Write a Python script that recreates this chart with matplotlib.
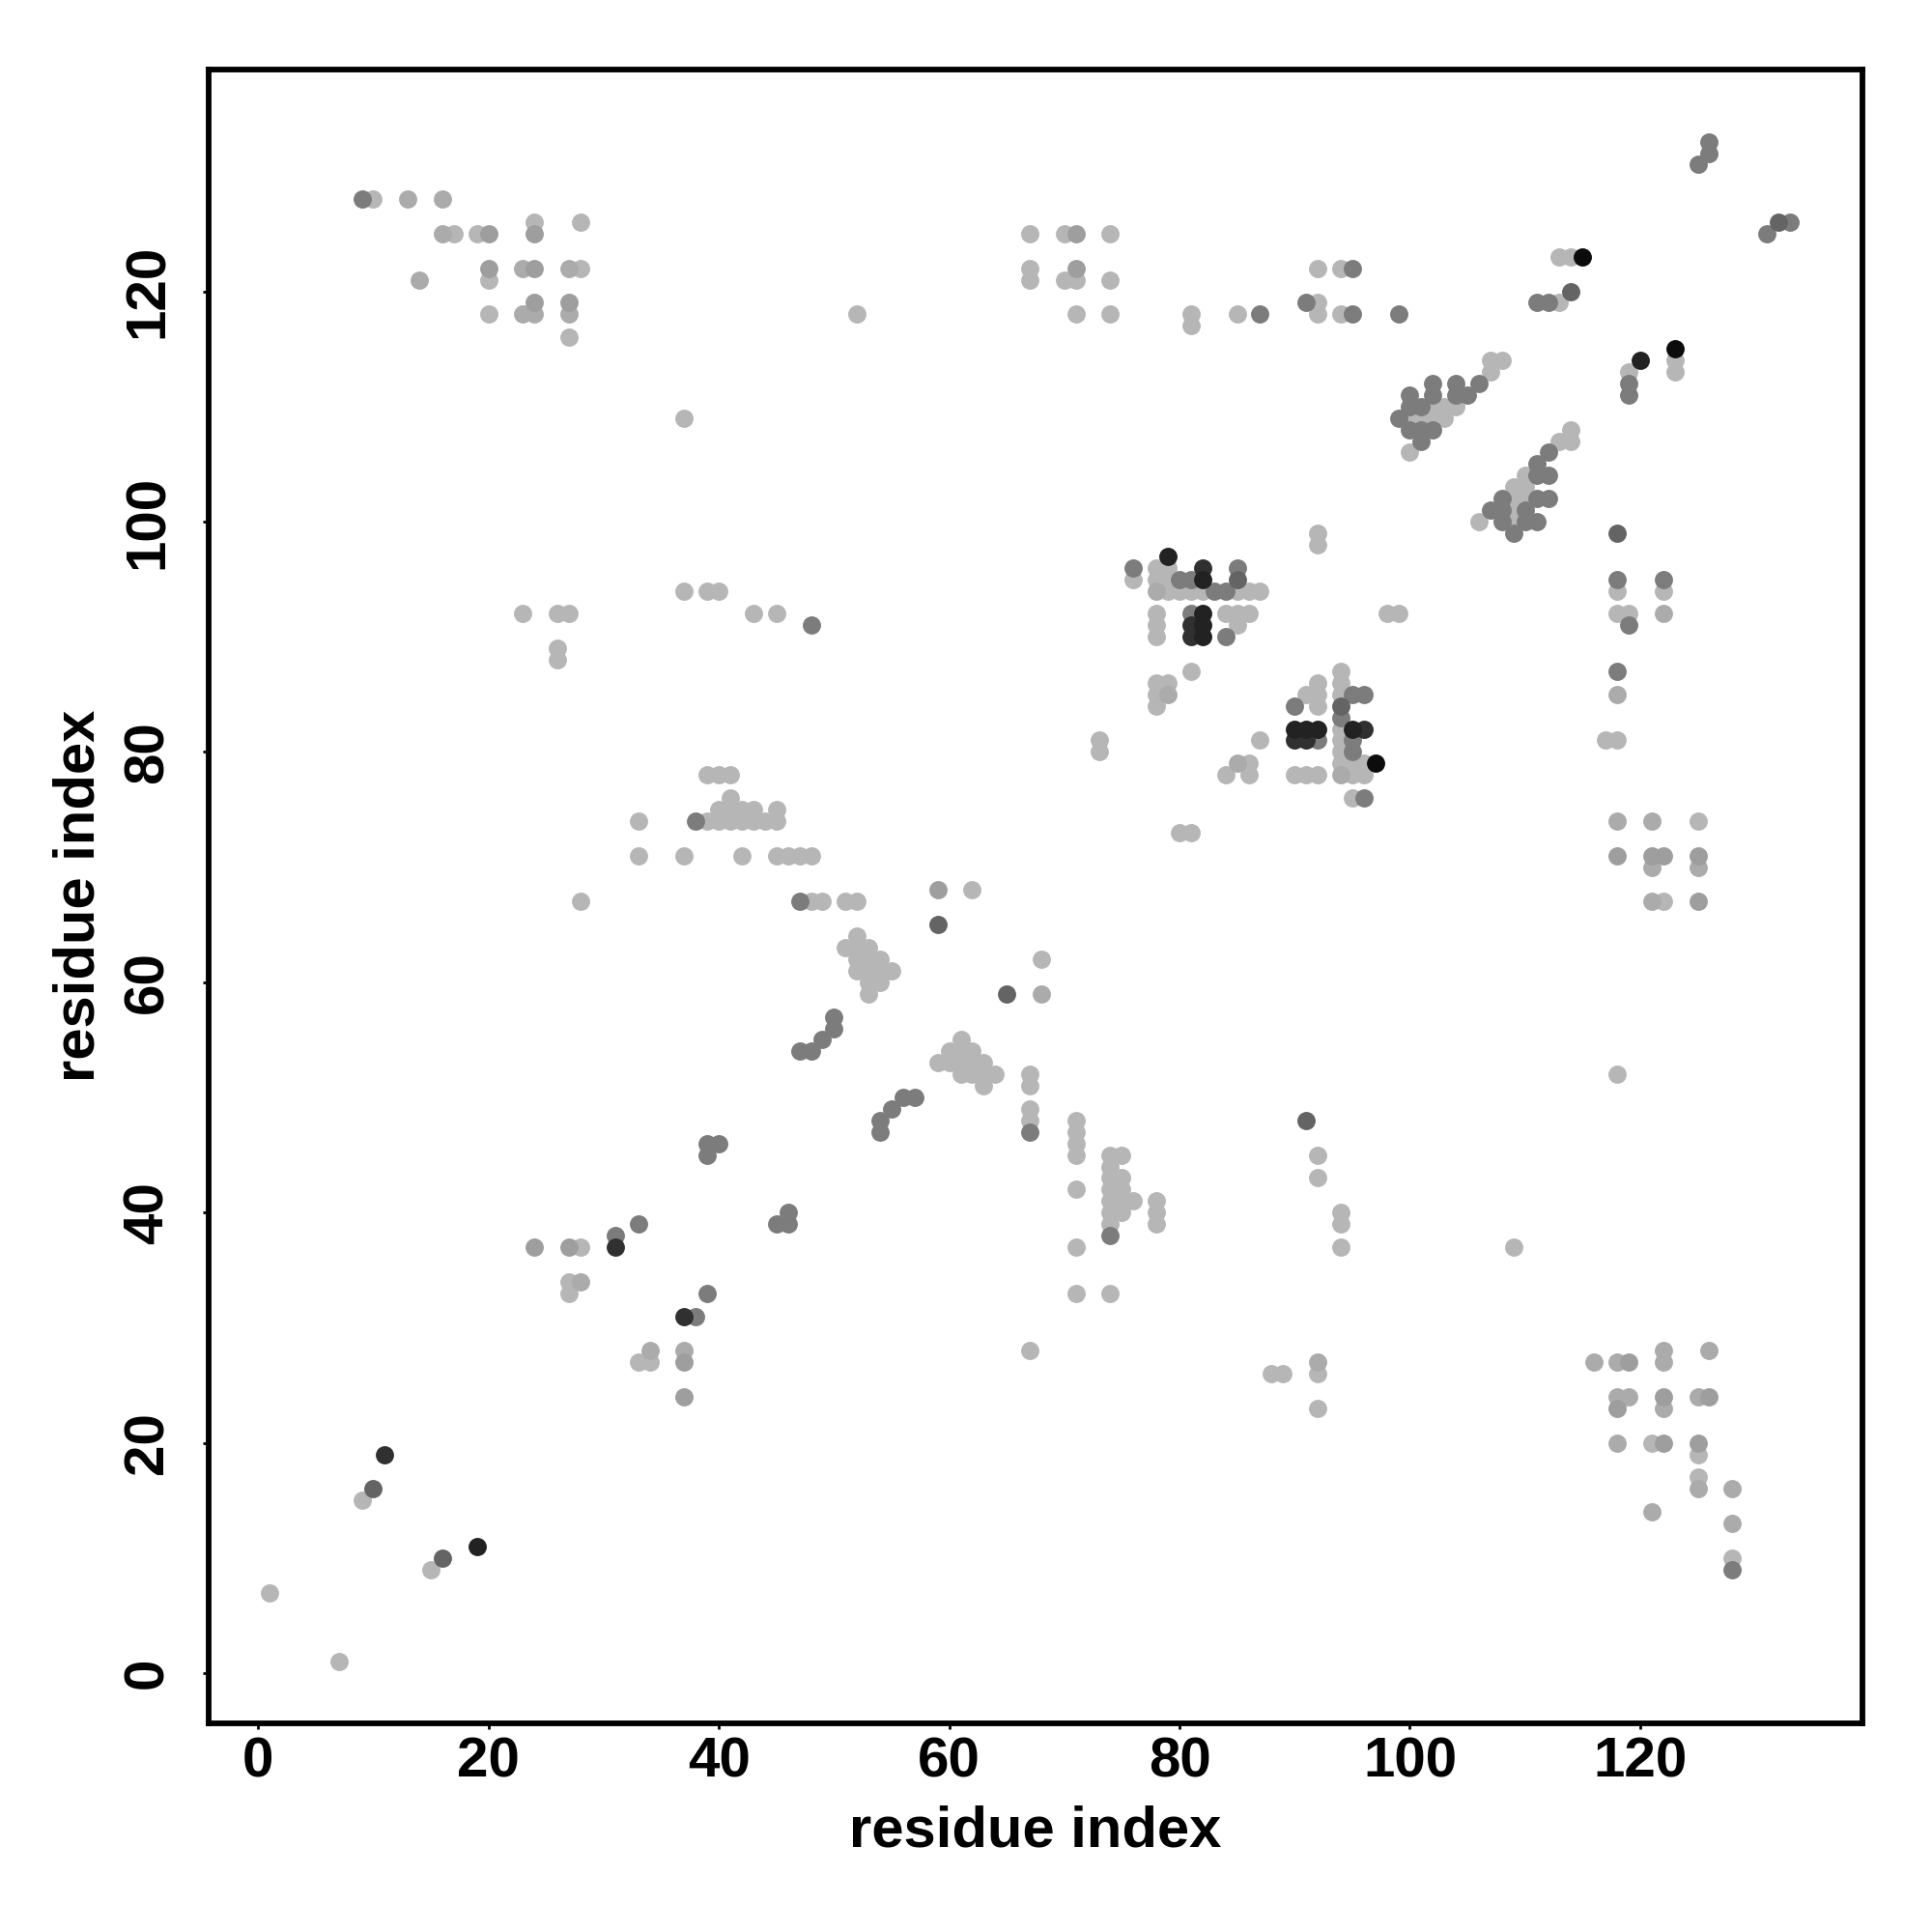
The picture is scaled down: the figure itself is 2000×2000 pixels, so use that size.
import numpy as np
import matplotlib
matplotlib.use('Agg')
import matplotlib.pyplot as plt

# contact pairs (residue i, residue j), grouped by how dark the dot is
light = [
    (10,128),(17,125),(19,125),(24,126),(28,126),(28,122),
    (20,121),(20,118),(27,116),(52,118),
    (67,125),(70,125),(74,125),(67,122),(67,121),(70,121),(71,121),(74,121),(71,118),(74,118),
    (81,118),(81,117),(85,118),(92,122),(94,122),(92,119),(92,118),(94,118),
    (113,123),(114,123),(113,119),(123,114),(119,113),(123,113),
    (107,114),(108,114),(107,113),(104,110),(103,110),(102,110),(100,109),(101,109),(102,109),(103,109),(100,106),
    (114,108),(113,107),(114,107),(110,104),(109,103),(110,103),(109,102),(110,102),(109,101),(106,100),(109,100),
    (92,99),(92,98),(37,109),
    (76,95),(78,96),(79,96),(78,95),(79,95),(79,94),(80,94),(81,94),(82,94),(85,94),(86,94),(87,94),
    (78,92),(84,92),(85,92),(86,92),(78,91),(85,91),(78,90),(81,87),(78,86),(79,86),(78,85),(78,84),
    (98,92),(99,92),(73,81),(73,80),
    (94,87),(94,86),(92,86),(91,85),(92,85),(94,85),(92,84),(94,82),(94,81),(87,81),(94,80),
    (86,79),(94,79),(95,79),(96,79),(84,78),(86,78),(90,78),(91,78),(92,78),(95,78),(96,78),(95,76),
    (23,92),(26,92),(27,92),(43,92),(45,92),(37,94),(39,94),(40,94),(26,89),(26,88),
    (118,94),(122,94),(118,92),(119,92),(117,81),(118,81),
    (125,74),(122,67),(118,52),
    (39,78),(40,78),(41,78),(41,76),(40,75),(41,75),(42,75),(43,75),(45,75),
    (39,74),(40,74),(41,74),(42,74),(43,74),(44,74),(45,74),(33,74),(33,71),
    (37,71),(42,71),(45,71),(46,71),(47,71),(48,71),(80,73),(81,73),
    (28,67),(48,67),(49,67),(51,67),(52,67),(62,68),
    (52,64),(51,63),(52,63),(53,63),(52,62),(53,62),(54,62),(52,61),(53,61),(54,61),(55,61),(53,60),(54,60),(53,59),
    (68,62),(61,55),(60,54),(61,54),(62,54),(59,53),(60,53),(61,53),(62,53),(63,53),(61,52),(62,52),(63,52),(64,52),(63,51),
    (67,52),(67,51),(67,49),(67,48),
    (71,48),(71,47),(71,46),(71,45),(71,42),(71,37),(71,33),
    (74,45),(75,45),(74,44),(74,43),(75,43),(74,42),(75,42),(74,41),(75,41),(76,41),(74,40),(75,40),(74,39),(74,33),
    (78,41),(78,40),(78,39),(92,45),(92,43),(94,40),(94,39),(94,37),(109,37),
    (28,37),(27,34),(27,33),(33,27),(34,27),(9,15),(15,9),(1,7),(7,1),
    (67,28),(88,26),(89,26),(92,26),(92,23),
    (121,20),(125,19),(125,17),(128,10),
]
light2 = [
    (13,128),(16,128),(16,125),(14,121),(23,122),(27,122),(23,118),(24,118),(27,118),(37,28),(34,28),
    (116,27),(118,27),(126,28),(122,28),(122,27),(118,24),(119,24),(122,23),(125,24),(118,20),
    (125,16),(128,16),(121,14),(128,13),(118,85),(118,74),(121,74),(121,70),(125,70),(121,67),(122,92),
    (78,94),(79,85),(85,79),(94,78),(68,59),(28,34),(92,27),
]
mid_light = [
    (24,125),(20,125),(20,122),(24,37),(27,37),(59,68),(71,125),(71,122),(24,119),(27,119),(24,122),
    (118,23),(119,27),(122,24),(126,24),(122,20),(125,20),(118,71),(121,71),(122,71),(125,71),(125,67),
    (37,27),(37,24),
]
mid = [
    (87,118),(99,118),(76,96),(80,95),(81,95),(85,96),(83,94),(84,94),(81,92),(84,90),
    (95,85),(96,85),(90,84),(94,83),(92,81),(95,81),(95,80),(96,76),
    (119,91),(47,67),(38,74),
    (67,47),(74,38),(128,9),(38,31),
    (48,91),(118,95),(122,95),(118,87),(54,47),(54,48),(55,49),(56,50),(57,50),
    (47,54),(48,54),(49,55),(50,56),(50,57),(45,39),(46,39),(46,40),(39,45),(39,46),(40,46),
    (31,38),(33,39),(39,33),(9,128),(131,125),(133,126),(125,131),(126,132),(126,133),
    # two diagonal bands near the top right
    (106,112),(105,111),(104,112),(104,111),(102,112),(102,111),(100,111),(100,110),(101,110),(99,109),
    (100,108),(101,108),(102,108),(101,107),(112,106),(111,105),(111,104),(112,104),(111,102),(112,102),
    (108,102),(107,101),(108,101),(110,101),(108,100),(110,100),(111,100),(109,99),
    (119,112),(119,111),(111,119),(112,119),(91,119),(95,122),(95,118),
]
mid_dark = [(85,95),(94,84),(118,99),(132,126),(59,65),(65,59),(91,48),(10,16),(16,10),(114,120)]
dark = [(82,96),(96,82),(90,81),(91,81),(81,91),(81,90),(11,19),(37,31),(31,37)]
very_dark = [(82,95),(82,92),(82,91),(82,90),(90,82),(91,82),(92,82),(95,82),(79,97),(19,11),(120,114)]
black = [(97,79),(115,123),(123,115)]

groups = [light, light2, mid_light, mid, mid_dark, dark, very_dark, black]
greys = ['#b6b6b6', '#ababab', '#9e9e9e', '#7c7c7c', '#646464', '#303030', '#222222', '#0c0c0c']

tick_vals = [0, 20, 40, 60, 80, 100, 120]

fig = plt.figure(figsize=(20, 20), dpi=100)
ax = fig.add_axes([216/2000, 216.3/2000, 1712/2000, 1712.2/2000])

for pts, grey in zip(groups, greys):
    pts = np.array(pts)
    ax.scatter(pts[:, 0], pts[:, 1], s=185, c=grey, linewidths=0, zorder=3)

ax.set_xlim(-4.3, 139.3)
ax.set_ylim(-4.33, 139.3)

ax.set_xticks(tick_vals)
ax.set_yticks(tick_vals)
ax.tick_params(length=4.5, width=2, labelsize=42)
ax.tick_params(axis='x', pad=5.5)
ax.tick_params(axis='y', pad=21)
for lab in ax.get_xticklabels():
    lab.set_family('Liberation Sans')
    lab.set_weight('bold')
for lab in ax.get_yticklabels():
    lab.set_family('Liberation Sans')
    lab.set_weight('bold')
    lab.set_rotation(90)
    lab.set_va('center')

for s in ax.spines.values():
    s.set_linewidth(4.2)

ax.set_xlabel('residue index', family='Liberation Sans', weight='bold', fontsize=43, labelpad=12)
ax.set_ylabel('residue index', family='Liberation Sans', weight='bold', fontsize=43, labelpad=12)

fig.savefig('out.png', dpi=100, facecolor='white')
